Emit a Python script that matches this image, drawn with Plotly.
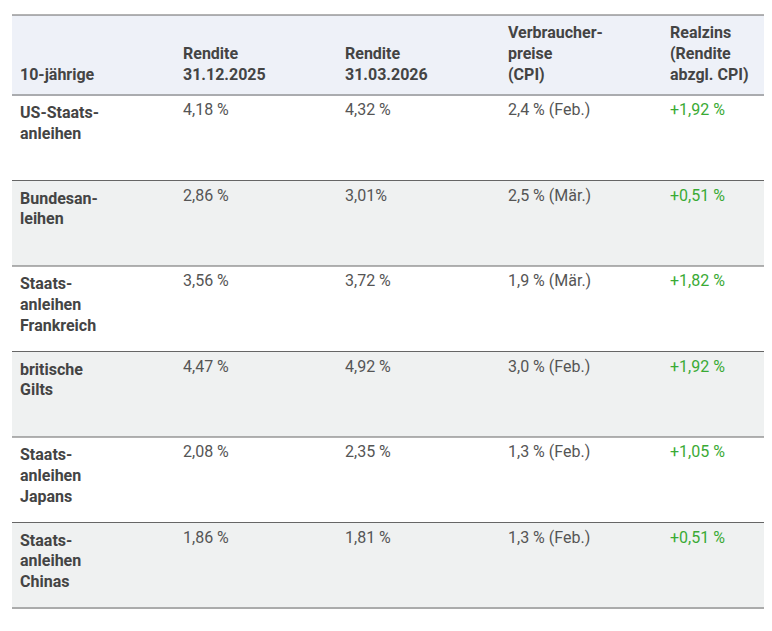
import plotly.graph_objects as go

headers = ["10-jährige", "Rendite<br>31.12.2025", "Rendite<br>31.03.2026",
           "Verbraucher-<br>preise<br>(CPI)", "Realzins<br>(Rendite<br>abzgl. CPI)"]
anleihen = ["US-Staats-<br>anleihen", "Bundesan-<br>leihen", "Staats-<br>anleihen<br>Frankreich",
            "britische<br>Gilts", "Staats-<br>anleihen<br>Japans", "Staats-<br>anleihen<br>Chinas"]
rendite_2025 = ["4,18 %", "2,86 %", "3,56 %", "4,47 %", "2,08 %", "1,86 %"]
rendite_2026 = ["4,32 %", "3,01%", "3,72 %", "4,92 %", "2,35 %", "1,81 %"]
cpi = ["2,4 % (Feb.)", "2,5 % (Mär.)", "1,9 % (Mär.)", "3,0 % (Feb.)", "1,3 % (Feb.)", "1,3 % (Feb.)"]
realzins = ["+1,92 %", "+0,51 %", "+1,82 %", "+1,92 %", "+1,05 %", "+0,51 %"]

W, H = 772, 631
top, hdr_h, row_h = 7, 80, 85.5
left, right = 4, 761

nl = [h.count("<br>") for h in headers]
mx = max(nl)
hdr_vals = ["<b>" + "\u00a0<br>" * (mx - n) + h + "</b>" for h, n in zip(headers, nl)]

row_fill = ["#ffffff" if i % 2 == 0 else "#eff1f1" for i in range(len(anleihen))]
fills = [row_fill] * 5
fig = go.Figure(go.Table(
    domain=dict(x=[left / W, right / W], y=[0, 1 - top / H]),
    columnwidth=[163, 162, 163, 162, 107],
    header=dict(values=hdr_vals, fill_color="#eef1f8", line=dict(color="#eef1f8", width=1),
                align="left", height=hdr_h,
                font=dict(family="Roboto", size=16, color="#444444")),
    cells=dict(values=[["<b>" + a + "</b>" for a in anleihen], rendite_2025, rendite_2026, cpi, realzins],
               fill_color=fills, line=dict(color=fills, width=1), align="left", height=row_h,
               font=dict(family="Roboto", size=16,
                         color=["#444444", "#555555", "#555555", "#555555", "#3aaa35"])),
))

ys = [top, top + hdr_h] + [top + hdr_h + row_h * (i + 1) for i in range(len(anleihen))]
for y in ys:
    fig.add_shape(type="line", xref="paper", yref="paper", x0=left / W, x1=right / W,
                  y0=1 - y / H, y1=1 - y / H, line=dict(color="#666666", width=1))

fig.update_layout(width=W, height=H, margin=dict(l=0, r=0, t=0, b=0),
                  paper_bgcolor="white", plot_bgcolor="white")
fig.write_html("out.html")
